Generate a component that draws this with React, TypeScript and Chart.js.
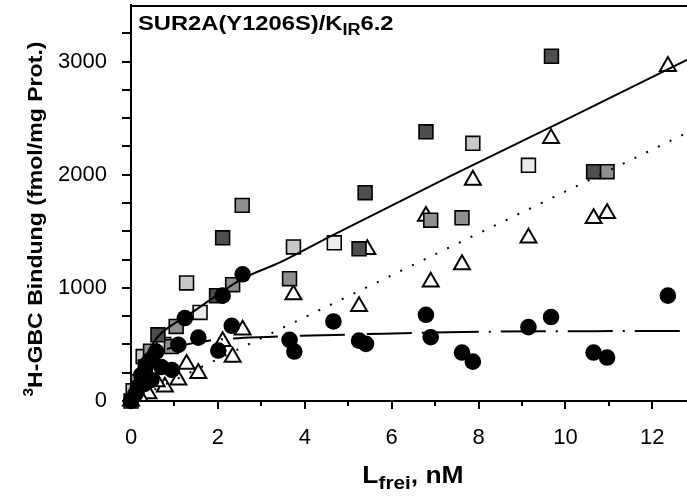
import React, { useEffect, useRef } from "react";
import { Chart, registerables } from "chart.js";

Chart.register(...registerables);

// ---- data (x = L frei in nM, y = 3H-GBC binding in fmol/mg protein) ----
const xTickValues = [0, 2, 4, 6, 8, 10, 12];
const yTickValues = [0, 1000, 2000, 3000];

const squaresDark: [number, number][] = [
  [9.68, 3047], [6.79, 2379], [5.39, 1841], [5.25, 1345], [2.11, 1442],
  [10.65, 2027], [1.97, 931], [0.62, 585], [0.33, 300],
];
const squaresMid: [number, number][] = [
  [2.56, 1729], [10.96, 2027], [6.9, 1598], [7.62, 1619], [3.65, 1081],
  [2.34, 1028], [0.93, 481], [1.04, 659], [0.16, 171], [0.45, 440],
];
const squaresLight: [number, number][] = [
  [7.87, 2278], [3.74, 1362], [1.28, 1043], [0.28, 393], [0.05, 90],
];
const squaresPale: [number, number][] = [
  [9.15, 2083], [4.68, 1398], [1.59, 783], [0.75, 500], [0, 0],
];
const triangles: [number, number][] = [
  [12.36, 2958], [9.67, 2320], [9.15, 1442], [10.65, 1613], [10.96, 1658],
  [7.87, 1953], [6.79, 1634], [5.44, 1339], [7.62, 1206], [6.9, 1052],
  [5.25, 836], [3.74, 940], [2.57, 629], [2.11, 526], [2.34, 387],
  [1.28, 325], [1.55, 245], [1.09, 186], [0.78, 125], [0.4, 65],
  [0.59, 171], [0.2, 40], [0, 0],
];
const circles: [number, number][] = [
  [12.36, 931], [9.67, 742], [9.15, 653], [10.65, 428], [10.96, 384],
  [6.79, 762], [6.9, 564], [7.62, 428], [7.87, 348], [4.66, 703],
  [5.25, 534], [5.41, 505], [3.65, 541], [3.76, 437], [2.57, 1120],
  [2.11, 931], [2.32, 665], [2.01, 446], [1.55, 560], [1.24, 733],
  [1.09, 496], [0.94, 274], [0.58, 437], [0.44, 363], [0.35, 319],
  [0.24, 230], [0.16, 126], [0.47, 186], [0.7, 300], [0.1, 60],
  [0.3, 150], [0, 0],
];
// fitted curves
const totalFit: [number, number][] = [
  [0, 0], [0.15, 230], [0.3, 360], [0.59, 555], [0.9, 660], [1.28, 750],
  [1.94, 925], [2.59, 1085], [3.43, 1225], [4.59, 1455], [7.35, 1988],
  [10.12, 2506], [12.81, 3017],
];
const nonspecificFit: [number, number][] = [
  [0, 0], [12.81, 2372],
];
const specificFit: [number, number][] = [
  [0, 0], [0.1, 150], [0.25, 290], [0.5, 400], [0.8, 455], [1.09, 485],
  [1.82, 535], [2.59, 558], [3.45, 572], [5.3, 590], [6.85, 605],
  [8.46, 613], [12.81, 620],
];

const toXY = (a: [number, number][]) => a.map(([x, y]) => ({ x, y }));

const FONT = '"Liberation Sans", Arial, sans-serif';

type Seg = { t: string; size: number; dy: number };

function drawRich(ctx: CanvasRenderingContext2D, segs: Seg[], sx: number, align: "left" | "center") {
  let total = 0;
  for (const s of segs) {
    ctx.font = `bold ${s.size}px ${FONT}`;
    total += ctx.measureText(s.t).width;
  }
  ctx.save();
  ctx.scale(sx, 1);
  let x = align === "center" ? -total / 2 : 0;
  ctx.textBaseline = "alphabetic";
  ctx.textAlign = "left";
  for (const s of segs) {
    ctx.font = `bold ${s.size}px ${FONT}`;
    ctx.fillText(s.t, x, s.dy);
    x += ctx.measureText(s.t).width;
  }
  ctx.restore();
}

const decor = {
  id: "decor",
  beforeDatasetsDraw(chart: any) {
    const { ctx, chartArea: a, scales } = chart;
    const xs = scales.x;
    const ys = scales.y;
    ctx.save();
    ctx.strokeStyle = "#000";
    ctx.fillStyle = "#000";
    ctx.lineWidth = 2;
    ctx.beginPath();
    ctx.moveTo(a.left - 1, a.top + 1);
    ctx.lineTo(a.right, a.top + 1);
    ctx.stroke();
    // y ticks every 250
    for (let v = 0; v <= 3250; v += 250) {
      const py = Math.round(ys.getPixelForValue(v));
      ctx.beginPath();
      ctx.moveTo(a.left - 9, py);
      ctx.lineTo(a.left, py);
      ctx.stroke();
    }
    // x ticks every 1 (major every 2)
    for (let v = 0; v <= 12; v += 1) {
      const px = Math.round(xs.getPixelForValue(v));
      const len = v % 2 === 0 ? 8 : 5;
      ctx.beginPath();
      ctx.moveTo(px, a.bottom);
      ctx.lineTo(px, a.bottom + len);
      ctx.stroke();
    }
    // inset label
    ctx.save();
    ctx.translate(138, 30);
    drawRich(ctx, [
      { t: "SUR2A(Y1206S)/K", size: 21, dy: 0 },
      { t: "IR", size: 16, dy: 5 },
      { t: "6.2", size: 21, dy: 0 },
    ], 1.13, "left");
    ctx.restore();
    // y title
    ctx.save();
    ctx.translate(42, 219);
    ctx.rotate(-Math.PI / 2);
    drawRich(ctx, [
      { t: "3", size: 14, dy: -9 },
      { t: "H-GBC Bindung (fmol/mg Prot.)", size: 21, dy: 0 },
    ], 1.1, "center");
    ctx.restore();
    // x title
    ctx.save();
    ctx.translate(413, 483);
    drawRich(ctx, [
      { t: "L", size: 23, dy: 0 },
      { t: "frei", size: 18, dy: 6 },
      { t: ", nM", size: 23, dy: 0 },
    ], 1.15, "center");
    ctx.restore();
    ctx.restore();
  },
};

export default function App() {
  const ref = useRef<HTMLCanvasElement | null>(null);
  useEffect(() => {
    if (!ref.current) return;
    const sq = (data: [number, number][], color: string) => ({
      data: toXY(data),
      pointStyle: "rect",
      pointRadius: 9.8,
      pointBackgroundColor: color,
      pointBorderColor: "#000",
      pointBorderWidth: 1.6,
      showLine: false,
      order: 2,
      clip: false as const,
    });
    const line = (data: [number, number][], dash: number[], smooth: boolean) => ({
      data: toXY(data),
      showLine: true,
      pointRadius: 0,
      borderColor: "#000",
      borderWidth: 2,
      borderDash: dash,
      tension: smooth ? 0.4 : 0,
      cubicInterpolationMode: smooth ? ("monotone" as const) : ("default" as const),
      order: 1,
      clip: false as const,
    });
    const chart = new Chart(ref.current, {
      type: "scatter",
      data: {
        datasets: [
          {
            data: toXY(circles),
            pointStyle: "circle",
            pointRadius: 8.3,
            pointBackgroundColor: "#000",
            pointBorderColor: "#000",
            pointBorderWidth: 0,
            order: 0,
            clip: false as const,
          },
          line(totalFit, [], true),
          line(nonspecificFit, [2, 11], false),
          line(specificFit, [45, 10, 2, 10], true),
          sq(squaresDark, "#4e4e4e"),
          sq(squaresMid, "#8f8f8f"),
          sq(squaresLight, "#c8c8c8"),
          sq(squaresPale, "#ececec"),
          {
            data: toXY(triangles),
            pointStyle: "triangle",
            pointRadius: 9.2,
            pointBackgroundColor: "#fff",
            pointBorderColor: "#000",
            pointBorderWidth: 2,
            order: 3,
            clip: false as const,
          },
        ] as any,
      },
      options: {
        responsive: false,
        animation: false,
        devicePixelRatio: 1,
        layout: { autoPadding: false, padding: { top: 5, right: 0, left: 0, bottom: 0 } },
        plugins: { legend: { display: false }, tooltip: { enabled: false }, title: { display: false } },
        scales: {
          x: {
            type: "linear",
            min: 0,
            max: 12.8,
            afterFit: (s: any) => {
              s.height = 101;
              s.paddingLeft = 0; s.paddingRight = 0; s.paddingTop = 0; s.paddingBottom = 0;
            },
            afterBuildTicks: (s: any) => { s.ticks = xTickValues.map((v) => ({ value: v })); },
            grid: { display: false, drawTicks: false },
            border: { display: true, color: "#000", width: 2 },
            ticks: {
              color: "#000",
              font: { family: FONT, size: 22 },
              padding: 24,
              maxRotation: 0,
              autoSkip: false,
              callback: (v: any) => String(v),
            },
          },
          y: {
            type: "linear",
            min: 0,
            max: 3500,
            afterFit: (s: any) => {
              s.width = 131;
              s.paddingLeft = 0; s.paddingRight = 0; s.paddingTop = 0; s.paddingBottom = 0;
            },
            afterBuildTicks: (s: any) => { s.ticks = yTickValues.map((v) => ({ value: v })); },
            grid: { display: false, drawTicks: false },
            border: { display: true, color: "#000", width: 2 },
            ticks: {
              color: "#000",
              font: { family: FONT, size: 22 },
              padding: 24,
              autoSkip: false,
              callback: (v: any) => String(v),
            },
          },
        },
      },
      plugins: [decor],
    });
    return () => chart.destroy();
  }, []);
  return (
    <div style={{ position: "fixed", left: 0, top: 0, width: 687, height: 502, background: "#fff" }}>
      <canvas ref={ref} width={687} height={502} style={{ display: "block" }} />
    </div>
  );
}
